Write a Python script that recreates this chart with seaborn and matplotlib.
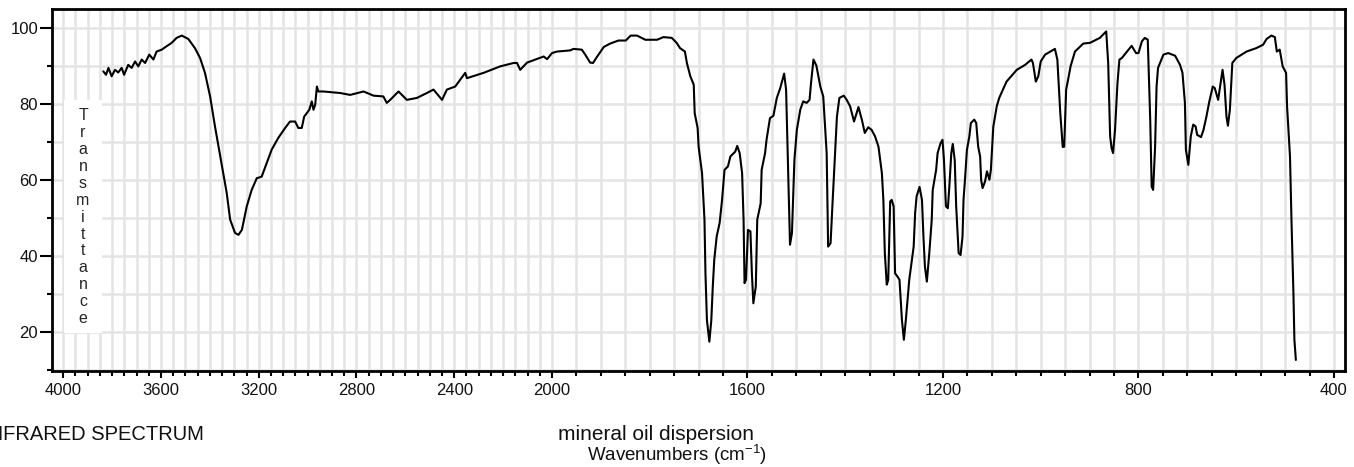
import numpy as np
import pandas as pd
import matplotlib
matplotlib.use("Agg")
import matplotlib.pyplot as plt
from matplotlib.patches import Rectangle
from matplotlib.ticker import FixedLocator, NullFormatter
import seaborn as sns

# IR spectrum (wavenumber in cm-1, %T)
wavenumber = [
    3836, 3825, 3815, 3802, 3788, 3775, 3761, 3751, 3734, 3720, 3706, 3693,
    3679, 3665, 3648, 3631, 3618, 3597, 3577, 3556, 3536, 3515, 3488, 3461,
    3440, 3420, 3399, 3379, 3358, 3340, 3331, 3317, 3297, 3283, 3269, 3249,
    3229, 3208, 3188, 3167, 3147, 3120, 3092, 3072, 3051, 3038, 3024, 3014,
    2993, 2983, 2976, 2969, 2962, 2956, 2935, 2867, 2826, 2771, 2730, 2690,
    2676, 2662, 2628, 2594, 2553, 2512, 2485, 2450, 2430, 2396, 2355, 2348,
    2280, 2212, 2157, 2143, 2130, 2102, 2034, 2020, 2000,
    1990, 1963, 1956, 1939, 1932, 1922, 1916, 1908, 1894, 1881, 1864, 1849,
    1839, 1826, 1809, 1785, 1772, 1755, 1745, 1738, 1728, 1724, 1717, 1710,
    1708, 1702, 1700, 1693, 1688, 1686, 1683, 1678, 1674, 1671, 1668, 1663,
    1657, 1652, 1647, 1640, 1635, 1625, 1621, 1616, 1611, 1608, 1606, 1603,
    1599, 1594, 1591, 1588, 1583, 1580, 1573, 1571, 1564, 1561, 1554, 1547,
    1540, 1533, 1525, 1521, 1516, 1513, 1509, 1504, 1499, 1492, 1486, 1479,
    1473, 1470, 1465, 1459, 1451, 1445, 1438, 1435, 1430, 1426, 1420, 1417,
    1412, 1403, 1397, 1390, 1382, 1373, 1366, 1360, 1353, 1346, 1339, 1332,
    1325, 1322, 1319, 1315, 1312, 1308, 1305, 1301, 1298, 1293, 1289, 1284,
    1280, 1276, 1269, 1260, 1257, 1254, 1248, 1243, 1240, 1237, 1233, 1228,
    1223, 1221, 1214, 1211, 1205, 1201, 1198, 1194, 1190, 1187, 1183, 1180,
    1176, 1173, 1168, 1164, 1160, 1158, 1155, 1151, 1146, 1143, 1136, 1132,
    1128, 1124, 1122, 1119, 1114, 1110, 1105, 1102, 1097, 1090, 1085, 1070,
    1049, 1032, 1019, 1016, 1010, 1005, 1000, 991, 971, 966, 960, 955,
    952, 948, 944, 939, 930, 913, 899, 879, 866, 862, 858, 855,
    852, 848, 843, 839, 834, 826, 814, 805, 800, 793, 787, 781,
    776, 773, 770, 766, 763, 760, 749, 739, 725, 715, 710, 705,
    703, 698, 693, 688, 683, 680, 672, 667, 661, 655, 648, 644,
    637, 632, 628, 624, 620, 617, 613, 608, 600, 579, 559, 545,
    538, 528, 521, 517, 511, 505, 498, 496, 490, 487, 483, 481, 478,
]
transmittance = [
    88.6, 87.7, 89.5, 87.3, 89.0, 88.3, 89.5, 87.7, 90.3, 89.5, 91.2, 89.9,
    91.7, 90.8, 93.0, 91.7, 93.8, 94.3, 95.2, 96.1, 97.4, 98.0, 97.1, 94.7,
    92.1, 88.2, 82.0, 74.1, 66.5, 60.0, 56.6, 49.6, 46.1, 45.6, 46.9, 53.1,
    57.4, 60.5, 60.9, 64.5, 68.0, 71.1, 73.7, 75.4, 75.4, 73.7, 73.7, 76.7,
    78.5, 80.7, 78.5, 79.8, 84.6, 83.3, 83.3, 82.9, 82.4, 83.3, 82.2, 82.0,
    80.3, 81.1, 83.3, 81.1, 81.6, 82.9, 83.8, 81.1, 83.8, 84.6, 88.2, 86.8,
    88.2, 89.9, 90.8, 90.8, 89.0, 90.9, 92.5, 91.8, 93.4,
    93.8, 94.1, 94.5, 94.3, 93.0, 90.9, 90.8, 92.4, 95.0, 95.9, 96.7, 96.7,
    98.0, 98.0, 96.9, 96.9, 97.6, 97.4, 96.1, 94.7, 93.8, 90.8, 87.3, 85.1,
    77.6, 73.7, 68.8, 61.8, 49.6, 35.5, 23.2, 17.5, 23.2, 32.0, 39.0, 45.2,
    48.7, 54.8, 62.7, 63.6, 66.2, 67.5, 69.0, 67.1, 61.8, 49.6, 32.9, 33.8,
    46.9, 46.5, 35.5, 27.6, 32.0, 49.6, 53.9, 62.7, 67.1, 70.6, 76.3, 76.9,
    81.6, 84.2, 88.0, 83.8, 58.3, 43.0, 46.1, 65.3, 73.2, 78.5, 80.7, 80.3,
    81.1, 85.5, 91.7, 90.1, 84.6, 82.0, 67.1, 42.5, 43.4, 53.9, 68.8, 76.7,
    81.6, 82.2, 81.1, 79.4, 75.4, 79.2, 75.9, 72.4, 73.9, 73.2, 71.5, 68.8,
    61.8, 54.8, 40.8, 32.5, 33.8, 54.4, 54.8, 53.1, 35.5, 34.6, 33.8, 23.2,
    18.0, 23.2, 33.8, 42.5, 51.3, 55.7, 58.2, 54.8, 45.2, 37.3, 33.3, 40.8,
    49.6, 57.4, 62.7, 67.1, 69.7, 70.6, 65.3, 53.1, 52.6, 58.3, 67.1, 69.5,
    65.3, 53.1, 40.8, 40.3, 45.2, 54.8, 60.1, 68.0, 71.5, 75.0, 75.9, 75.0,
    68.8, 66.2, 60.1, 57.9, 59.6, 62.3, 60.1, 62.7, 74.1, 79.4, 81.6, 85.9,
    89.0, 90.3, 91.7, 90.8, 85.9, 87.3, 91.2, 93.0, 94.5, 91.7, 77.6, 68.7,
    68.8, 83.8, 86.4, 89.9, 93.8, 95.9, 96.1, 97.4, 99.1, 90.8, 71.5, 68.4,
    67.1, 73.2, 85.5, 91.7, 92.1, 93.4, 95.3, 93.4, 93.4, 96.5, 97.4, 96.9,
    75.9, 58.3, 57.4, 68.8, 84.6, 89.5, 93.0, 93.4, 92.7, 90.3, 88.2, 80.3,
    68.0, 64.0, 71.5, 74.6, 74.1, 71.9, 71.3, 73.2, 76.7, 80.7, 84.6, 84.2,
    81.1, 85.5, 89.0, 85.1, 76.7, 74.3, 78.5, 90.8, 92.1, 93.8, 94.7, 95.6,
    97.1, 98.0, 97.6, 93.8, 94.3, 89.9, 88.2, 79.4, 66.2, 49.6, 30.3, 18.0, 12.7,
]

x_major = [4000, 3600, 3200, 2800, 2400, 2000, 1600, 1200, 800, 400]
x_minor = list(range(400, 4001, 50))
y_major = [20, 40, 60, 80, 100]
y_minor = [10, 30, 50, 70, 90]

sns.set_theme(style="whitegrid")
plt.rcParams["font.family"] = ["Liberation Sans", "DejaVu Sans"]
plt.rcParams["mathtext.default"] = "regular"


def forward(x):
    # above 2000 cm-1 the axis is compressed by half
    x = np.asarray(x, dtype=float)
    return np.where(x > 2000, 2000 + (x - 2000) / 2, x)


def inverse(v):
    v = np.asarray(v, dtype=float)
    return np.where(v > 2000, 2000 + (v - 2000) * 2, v)


df = pd.DataFrame({"wavenumber": wavenumber, "transmittance": transmittance})

fig = plt.figure(figsize=(13.54, 4.67), dpi=100)
ax = fig.add_axes([0.0384, 0.2056, 0.9553, 0.7752])

sns.lineplot(data=df, x="wavenumber", y="transmittance", sort=False,
             estimator=None, color="black", linewidth=1.5, ax=ax)

ax.set_xscale("function", functions=(forward, inverse))
ax.set_xlim(4046, 376.5)
ax.set_ylim(9.8, 105)

ax.xaxis.set_major_locator(FixedLocator(x_major))
ax.xaxis.set_minor_locator(FixedLocator(x_minor))
ax.xaxis.set_minor_formatter(NullFormatter())
ax.set_xticklabels([str(v) for v in x_major])
ax.yaxis.set_major_locator(FixedLocator(y_major))
ax.yaxis.set_minor_locator(FixedLocator(y_minor))
ax.set_yticklabels([str(v) for v in y_major])

ax.grid(True, which="both", color="#e4e4e4", linewidth=1.8)
ax.set_axisbelow(True)
ax.tick_params(axis="both", which="both", direction="out", color="black",
               width=1.5, labelsize=12, labelcolor="#111111",
               bottom=True, left=True)
ax.tick_params(axis="x", which="major", length=5, pad=4)
ax.tick_params(axis="x", which="minor", length=3.6)
ax.tick_params(axis="y", which="major", length=8.5, pad=1.5)
ax.tick_params(axis="y", which="minor", length=3.6)
for s in ax.spines.values():
    s.set_color("black")
    s.set_linewidth(2)

ax.set_xlabel("")
ax.set_ylabel("")

# white strip behind the stacked y label
ax.add_patch(Rectangle((0.0093, 0.105), 0.0293, 0.644, transform=ax.transAxes,
                       facecolor="white", edgecolor="none", zorder=1))
ax.text(0.024, 0.425, "\n".join("Transmittance"), transform=ax.transAxes,
        ha="center", va="center", fontsize=11.5, linespacing=1.16, zorder=2)

fig.text(-17 / 1354, 1 - 440 / 467, "INFRARED SPECTRUM", fontsize=14.5,
         ha="left", va="baseline", color="#111111")
fig.text(558 / 1354, 1 - 440 / 467, "mineral oil dispersion", fontsize=15,
         ha="left", va="baseline", color="#111111")
fig.text(587 / 1354, 1 - 461 / 467, "Wavenumbers (cm$^{-1}$)", fontsize=13.5,
         ha="left", va="baseline", color="#111111")

fig.savefig("out.png", dpi=100)
